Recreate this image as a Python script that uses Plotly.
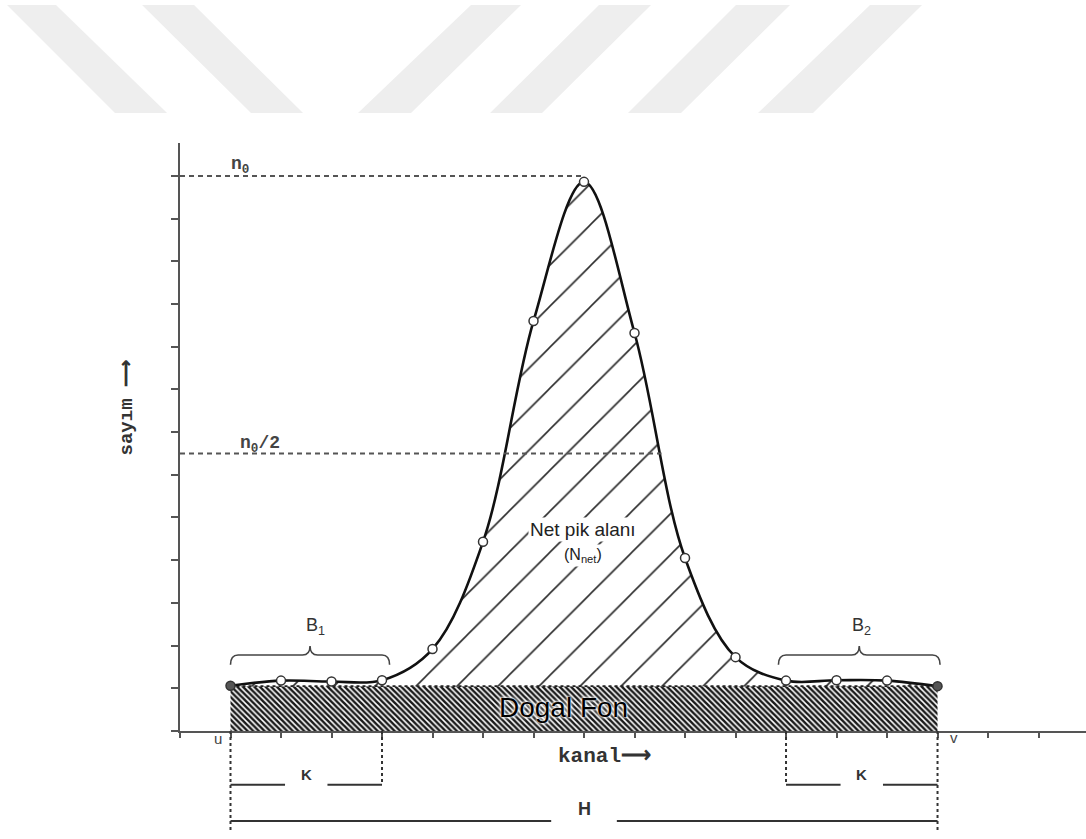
import plotly.graph_objects as go

# ---------------- data ----------------
channels = list(range(1, 16))
counts = [1.06, 1.18, 1.16, 1.19, 1.92, 4.43, 9.60, 12.86, 9.32, 4.05, 1.73, 1.18, 1.19, 1.18, 1.05]
background = 1.05
n0 = 13.0
b1_range = [1.0, 4.15]
b2_range = [11.85, 15.05]
k_left = [1, 4]
k_right = [12, 15]
x_tick_step = 1
y_tick_step = 1

XMAX = 17.94
YMAX = 13.77

u = channels[0]
v = channels[-1]
peak_i = counts.index(max(counts))
peak_ch = channels[peak_i]
half = n0 / 2
# right half-maximum crossing (between the two channels surrounding it)
for i in range(peak_i, len(counts) - 1):
    if counts[i] >= half > counts[i + 1]:
        half_ch = channels[i] + (counts[i] - half) / (counts[i] - counts[i + 1])
        break


def yp(yu):
    """data y-units -> paper fraction (y axis spans whole plot area)"""
    return yu / YMAX


def pxp(px, py):
    """page pixel -> paper coords (plot area 180..1086 x 143..731)"""
    return (px - 180) / 906.0, (731 - py) / 588.0


fig = go.Figure()

# background (Doğal Fon) hatched rectangle
fig.add_trace(go.Scatter(
    x=[u, v, v, u, u], y=[0, 0, background, background, 0],
    mode="lines", fill="toself", line=dict(width=0),
    fillcolor="white",
    fillpattern=dict(shape="\\", fgcolor="#1a1a1a", bgcolor="white", size=4, solidity=0.62,
                     fgopacity=1),
    hoverinfo="skip", showlegend=False, cliponaxis=False,
))
# background top edge (base for the net area fill)
fig.add_trace(go.Scatter(
    x=[u, v], y=[background, background], mode="lines",
    line=dict(color="#222", width=1.6, dash="dot"),
    hoverinfo="skip", showlegend=False,
))
# peak curve with net-area hatching
fig.add_trace(go.Scatter(
    x=channels, y=counts, mode="lines",
    line=dict(color="#111", width=2.6, shape="spline", smoothing=1.0),
    fill="tonexty", fillcolor="white",
    fillpattern=dict(shape="/", fgcolor="#2a2a2a", bgcolor="white", size=29, solidity=0.055,
                     fgopacity=1),
    hoverinfo="skip", showlegend=False,
))
# data points
fig.add_trace(go.Scatter(
    x=channels, y=counts, mode="markers",
    marker=dict(size=9, color=["#555"] + ["white"] * (len(channels) - 2) + ["#555"],
                line=dict(color="#333", width=1.5)),
    cliponaxis=False, hoverinfo="skip", showlegend=False,
))

shapes = []
# n0 and n0/2 dashed lines
shapes.append(dict(type="line", xref="x", yref="y", x0=0, x1=peak_ch, y0=n0, y1=n0,
                   line=dict(color="#555", width=2, dash="5px,4px")))
shapes.append(dict(type="line", xref="x", yref="y", x0=0, x1=half_ch, y0=half, y1=half,
                   line=dict(color="#555", width=2, dash="5px,4px")))


def brace(a, b, y_end=1.55, y_flat=1.78, y_tip=1.99, r=0.15):
    m = (a + b) / 2
    return (f"M{a},{y_end} Q{a},{y_flat} {a + r},{y_flat} L{m - r},{y_flat} "
            f"Q{m},{y_flat} {m},{y_tip} Q{m},{y_flat} {m + r},{y_flat} "
            f"L{b - r},{y_flat} Q{b},{y_flat} {b},{y_end}")


for rng in (b1_range, b2_range):
    shapes.append(dict(type="path", xref="x", yref="y", path=brace(*rng),
                       line=dict(color="#444", width=1.6)))

# dotted verticals below the axis
for ch, depth in ((u, -2.32), (v, -2.32), (k_left[1], -1.26), (k_right[0], -1.26)):
    shapes.append(dict(type="line", xref="x", yref="paper", x0=ch, x1=ch, y0=0, y1=yp(depth),
                       line=dict(color="#333", width=2, dash="3px,3px")))

# K and H dimension lines (with gap for label)
def dim_line(a, b, yu, gap):
    m = (a + b) / 2
    return [dict(type="line", xref="x", yref="paper", x0=a, x1=m - gap, y0=yp(yu), y1=yp(yu),
                 line=dict(color="#333", width=2)),
            dict(type="line", xref="x", yref="paper", x0=m + gap, x1=b, y0=yp(yu), y1=yp(yu),
                 line=dict(color="#333", width=2))]

shapes += dim_line(k_left[0], k_left[1], -1.26, 0.42)
shapes += dim_line(k_right[0], k_right[1], -1.26, 0.42)
shapes += dim_line(u, v, -2.11, 0.65)

# watermark stripes at the top of the page
stripes = [
    [(7, 5), (56, 5), (167, 113), (115, 113)],
    [(142, 5), (194, 5), (303, 113), (251, 113)],
    [(471, 5), (521, 5), (411, 113), (358, 113)],
    [(599, 5), (651, 5), (542, 113), (490, 113)],
    [(736, 5), (790, 5), (681, 113), (628, 113)],
    [(870, 5), (922, 5), (813, 113), (758, 113)],
]
for st in stripes:
    pts = [pxp(*p) for p in st]
    path = "M" + " L".join(f"{x:.4f},{y:.4f}" for x, y in pts) + " Z"
    shapes.append(dict(type="path", xref="paper", yref="paper", path=path,
                       fillcolor="#eeeeee", line=dict(width=0), layer="below"))

mono = "Liberation Mono"
sans = "Liberation Sans, Arial, sans-serif"
annotations = [
    dict(text="<b>n<sub>0</sub></b>", x=1.19, y=13.25, xref="x", yref="y", showarrow=False,
         font=dict(family=mono, size=18, color="#444"), yanchor="middle"),
    dict(text="<b>n<sub>0</sub>/2</b>", x=1.58, y=6.72, xref="x", yref="y", showarrow=False,
         font=dict(family=mono, size=18, color="#444"), yanchor="middle"),
    dict(text="<b>sayım ⟶</b>", x=-0.073, y=0.55, xref="paper", yref="paper", showarrow=False,
         textangle=-90, font=dict(family=mono, size=19, color="#333")),
    dict(text="<b>kanal⟶</b>", x=8.4, y=yp(-0.91), xref="x", yref="paper", showarrow=False,
         font=dict(family=mono, size=21, color="#333")),
    dict(text="u", x=0.75, y=yp(-0.42), xref="x", yref="paper", showarrow=False,
         font=dict(family=sans, size=15, color="#444")),
    dict(text="v", x=15.33, y=yp(-0.40), xref="x", yref="paper", showarrow=False,
         font=dict(family=sans, size=15, color="#444")),
    dict(text="<b>K</b>", x=sum(k_left) / 2, y=yp(-1.26), xref="x", yref="paper", showarrow=False,
         font=dict(family=sans, size=15, color="#333")),
    dict(text="<b>K</b>", x=sum(k_right) / 2, y=yp(-1.26), xref="x", yref="paper", showarrow=False,
         font=dict(family=sans, size=15, color="#333")),
    dict(text="<b>H</b>", x=(u + v) / 2, y=yp(-2.11), xref="x", yref="paper", showarrow=False,
         font=dict(family=sans, size=18, color="#333")),
    dict(text="B<sub>1</sub>", x=sum(b1_range) / 2 + 0.1, y=2.44, xref="x", yref="y", showarrow=False,
         font=dict(family=sans, size=18, color="#333")),
    dict(text="B<sub>2</sub>", x=sum(b2_range) / 2 + 0.05, y=2.44, xref="x", yref="y", showarrow=False,
         font=dict(family=sans, size=18, color="#333")),
    dict(text="Net pik alanı", x=7.98, y=4.71, xref="x", yref="y", showarrow=False,
         bgcolor="white", font=dict(family=sans, size=19, color="#222")),
    dict(text="(N<sub>net</sub>)", x=7.98, y=4.12, xref="x", yref="y", showarrow=False,
         bgcolor="white", font=dict(family=sans, size=16, color="#222")),
    dict(text="Dogal Fon", x=7.6, y=0.56, xref="x", yref="y", showarrow=False,
         font=dict(family=sans, size=28, color="#000",
                   shadow="0 0 2px white, 0 0 3px white, 0 0 4px white")),
]

fig.update_layout(
    width=1086, height=839, autosize=False,
    margin=dict(l=180, r=0, t=143, b=108, pad=0),
    paper_bgcolor="white", plot_bgcolor="white",
    shapes=shapes, annotations=annotations, showlegend=False,
    xaxis=dict(range=[0, XMAX], showgrid=False, zeroline=False, showline=True,
               linecolor="#555", linewidth=2, ticks="outside", ticklen=5, tickwidth=1.5,
               tickcolor="#555", dtick=x_tick_step, tick0=0, showticklabels=False),
    yaxis=dict(range=[0, YMAX], showgrid=False, zeroline=False, showline=True,
               linecolor="#555", linewidth=2, ticks="outside", ticklen=7, tickwidth=1.5,
               tickcolor="#555", dtick=y_tick_step, tick0=0, showticklabels=False),
)

fig.write_html("out.html")
